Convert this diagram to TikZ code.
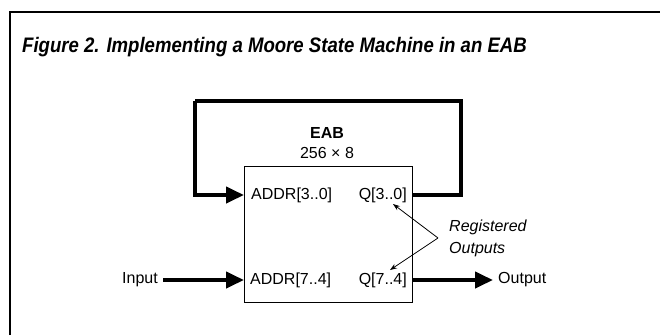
\documentclass[tikz,border=0pt]{standalone}
\usepackage{fontspec}
\setmainfont{Liberation Sans}
\newfontfamily\titlefont[FakeStretch=0.885]{Liberation Sans}
\usetikzlibrary{arrows.meta}
\begin{document}
\begin{tikzpicture}[x=1pt,y=-1pt,
  bus/.style={line width=4pt,-{Triangle[length=18pt,width=16pt]}},
  busline/.style={line width=4pt},
  thin/.style={line width=0.8pt,-{Stealth[length=7pt,width=5pt]}},
  lbl/.style={font=\fontsize{16}{18}\selectfont,inner sep=0pt},
  ]
\useasboundingbox (0,0) rectangle (660,335);
\draw[line width=1.5pt] (10,335) -- (10,12) -- (660,12);
\node[anchor=west,inner sep=0pt,font=\titlefont\bfseries\itshape\fontsize{21}{24}\selectfont] (title) at (22,47) {Figure 2. Implementing a Moore State Machine in an EAB};
\node[draw,line width=1.3pt,minimum width=168pt,minimum height=136pt,inner sep=0pt,anchor=north west] (eab) at (244,166) {};
\node[lbl,font=\bfseries\fontsize{16}{18}\selectfont] (eabname) at (327,133) {EAB};
\node[lbl] (eabsize) at (327,153) {256 × 8};
\node[lbl,anchor=west] (a30) at (251,195) {ADDR[3..0]};
\node[lbl,anchor=east] (q30) at (407,195) {Q[3..0]};
\node[lbl,anchor=west] (a74) at (250,280) {ADDR[7..4]};
\node[lbl,anchor=east] (q74) at (407,280) {Q[7..4]};
\node[lbl,anchor=east] (in) at (158,280) {Input};
\node[lbl,anchor=west] (out) at (498,280) {Output};
\node[lbl,anchor=west,align=left,font=\itshape\fontsize{16}{22}\selectfont] (reg) at (449,238) {Registered\\Outputs};
\coordinate (fbR) at (461,101);
\coordinate (fbL) at (195,101);
\coordinate (j) at (438,238);
\coordinate (t1) at (393,204);
\coordinate (t2) at (390,270);
\draw[busline] (eab.east |- q30) -| (fbR) -- (fbL);
\draw[bus] (fbL) |- (eab.west |- a30);
\draw[bus] (in.east) ++(5,0) -- (eab.west |- a74);
\draw[bus] (eab.east |- q74) -- (493,280);
\draw[thin] (j) -- (t1);
\draw[thin] (j) -- (t2);
\end{tikzpicture}
\end{document}
